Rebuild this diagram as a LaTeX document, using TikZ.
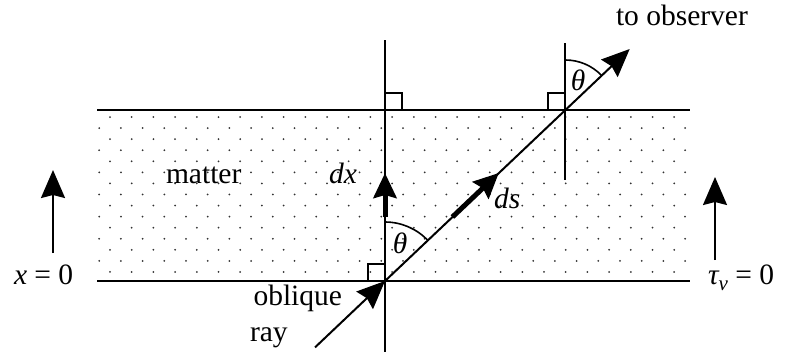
\documentclass[tikz,border=0pt]{standalone}
\usepackage{fontspec}
\setmainfont{Liberation Serif}
\usetikzlibrary{arrows.meta,calc}
\begin{document}
\begin{tikzpicture}[x=1pt,y=-1pt, line width=2pt,
  bigtip/.style={-{Stealth[length=28pt,width=24pt,inset=3pt]}},
  thicktip/.style={line width=5pt,-{Stealth[length=25pt,width=23pt,inset=3pt]}},
  lbl/.style={inner sep=0pt, anchor=base west, font=\fontsize{29.5}{34}\selectfont},
  dotc/.style={fill=black!80}]
\useasboundingbox (0,0) rectangle (789,354);
% dotted matter band
\begin{scope}
  \clip (98,112) rectangle (689,278);
  \foreach \r in {0,...,14} {
    \pgfmathsetmacro\yy{117+11.07*\r}
    \pgfmathsetmacro\xo{mod(\r,2)==0 ? 110 : 99.2}
    \foreach \k in {-1,...,27} { \fill[dotc] (\xo+21.7*\k, \yy) circle (1pt); }
  }
\end{scope}
% key points
\coordinate (O) at (385,281);
\coordinate (P) at (565.4,110);
\coordinate (BL) at (97,281);
\coordinate (BR) at (690,281);
\coordinate (TL) at (97,110);
\coordinate (TR) at (690,110);
\coordinate (V1t) at (385,40);
\coordinate (V1b) at (385,352);
\coordinate (V2t) at (565.4,43);
\coordinate (V2b) at (565.4,180);
\coordinate (Rs) at (315,347.4);
\coordinate (Rt) at (629.7,49);
\coordinate (dxs) at (385,217);
\coordinate (dxt) at (385,173);
\coordinate (dss) at (452.4,217);
\coordinate (dst) at (498.8,173);
\coordinate (La) at (53,253);
\coordinate (Lb) at (53,170);
\coordinate (Ra) at (715,260);
\coordinate (Rb) at (715,177);
% boundary lines
\draw (TL) -- (TR);
\draw (BL) -- (BR);
\draw (V1t) -- (V1b);
\draw (V2t) -- (V2b);
% right-angle marks
\draw[line width=1.6pt] (368,264) rectangle (O);
\draw[line width=1.6pt] (385,93) rectangle (402,110);
\draw[line width=1.6pt] (548,93) rectangle (P);
% ray
\draw[bigtip] (Rs) -- (O);
\draw (O) -- (P);
\draw[bigtip] (P) -- (Rt);
% dx and ds
\draw[thicktip] (dxs) -- (dxt);
\draw[thicktip] (dss) -- (dst);
% side arrows
\draw[bigtip] (La) -- (Lb);
\draw[bigtip] (Ra) -- (Rb);
% angle arcs
\draw[line width=1.6pt] ($(O)+(0,-59)$) arc[start angle=-90, end angle=-43.5, radius=59];
\draw[line width=1.6pt] ($(P)+(0,-50)$) arc[start angle=-90, end angle=-43.5, radius=50];
% labels
\node[lbl, anchor=center] (th1) at (400,243) {\itshape θ};
\node[lbl, anchor=center] (th2) at (578,80) {\itshape θ};
\node[lbl] (obs) at (615,25) {to observer};
\node[lbl] (mat) at (165,183) {matter};
\node[lbl] (dx) at (328,183) {\itshape dx};
\node[lbl] (ds) at (493,208) {\itshape ds};
\node[lbl] (x0) at (13,284) {{\itshape x} = 0};
\node[lbl] (tau) at (707,284) {{\itshape τ}\raisebox{-6pt}{\fontsize{21}{21}\selectfont\itshape ν} = 0};
\node[lbl, anchor=base east] (obl) at (343,305) {oblique};
\node[lbl] (ray) at (249,341) {ray};
\end{tikzpicture}
\end{document}
